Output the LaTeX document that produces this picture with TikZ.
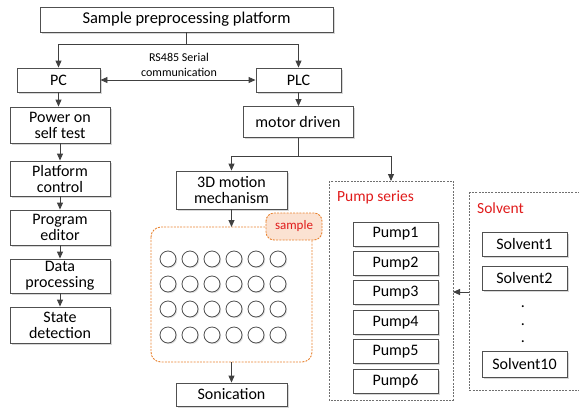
\documentclass[tikz,border=0pt]{standalone}
\usepackage{fontspec}
\setmainfont{Carlito}
\usetikzlibrary{arrows.meta,shadows}
\definecolor{boxline}{HTML}{505050}
\definecolor{arrcol}{HTML}{404040}
\definecolor{orangeline}{HTML}{E8822F}
\definecolor{tabfill}{HTML}{FBE2D2}
\definecolor{redtext}{HTML}{E01B1B}
\definecolor{grayline}{HTML}{707070}
\tikzset{
  box/.style={draw=boxline, line width=0.9pt, fill=white, align=center,
    font=\fontsize{16}{16}\selectfont, inner sep=0pt,
    drop shadow={shadow xshift=1.5pt, shadow yshift=-1.5pt, fill=black!35, opacity=0.45}},
  arr/.style={draw=arrcol, line width=0.9pt, -{Triangle[length=7pt,width=6pt]}},
  arrboth/.style={draw=arrcol, line width=0.9pt, {Triangle[length=7pt,width=6pt]}-{Triangle[length=7pt,width=6pt]}},
  plain/.style={draw=arrcol, line width=0.9pt},
  dashbox/.style={draw=grayline, line width=0.9pt, dash pattern=on 2pt off 1.2pt},
  well/.style={circle, draw=boxline, line width=0.8pt, fill=white, minimum size=16pt, inner sep=0pt,
    drop shadow={shadow xshift=1.2pt, shadow yshift=-1.2pt, fill=black!30, opacity=0.4}},
  grouptitle/.style={text=redtext, font=\fontsize{15.5}{16}\selectfont, anchor=west, inner sep=0pt}
}
\begin{document}
\begin{tikzpicture}[x=1pt,y=-1pt]
\useasboundingbox (0,0) rectangle (579,408);
\clip (0,0) rectangle (579,408);
% top
\node[box, minimum width=293pt, minimum height=25pt, font=\fontsize{16.5}{17}\selectfont] (title) at (186.5,19.5) {Sample preprocessing platform};
\node[box, minimum width=83pt, minimum height=24pt] (pc) at (58.5,80) {PC};
\node[box, minimum width=85pt, minimum height=24pt] (plc) at (298.5,80) {PLC};
\coordinate (j1) at (186.5,44);
\draw[plain] (title.south) -- (j1);
\draw[arr] (j1) -| (pc.north);
\draw[arr] (j1) -| (plc.north);
\draw[arrboth] (pc.east) -- (plc.west);
\node[align=center, font=\fontsize{12}{15}\selectfont, inner sep=0pt] (rs) at (179,64.5) {RS485 Serial\\communication};
% left column
\node[box, minimum width=100pt, minimum height=36pt] (power) at (60,125) {Power on\\self test};
\node[box, minimum width=100pt, minimum height=35pt] (platform) at (60,178.5) {Platform\\control};
\node[box, minimum width=100pt, minimum height=35pt] (program) at (60,227.5) {Program\\editor};
\node[box, minimum width=100pt, minimum height=34pt] (data) at (60,276) {Data\\processing};
\node[box, minimum width=100pt, minimum height=36pt] (state) at (60,325) {State\\detection};
\draw[arr] (pc.south) -- (pc.south |- power.north);
\draw[arr] (power.south) -- (platform.north);
\draw[arr] (platform.south) -- (program.north);
\draw[arr] (program.south) -- (data.north);
\draw[arr] (data.south) -- (state.north);
% PLC branch
\node[box, minimum width=110pt, minimum height=31pt] (motor) at (298,122) {motor driven};
\draw[arr] (plc.south) -- (plc.south |- motor.north);
\node[box, minimum width=111pt, minimum height=38pt] (motion) at (231.5,190) {3D motion\\mechanism};
% sample tray
\draw[draw=orangeline, line width=0.9pt, dash pattern=on 2pt off 1.2pt, rounded corners=10pt] (151,227) rectangle (312,362);
\coordinate (trayN) at (231.5,227);
\coordinate (trayS) at (231.5,362);
\draw[draw=orangeline, fill=tabfill, line width=0.9pt, dash pattern=on 2pt off 1.2pt, rounded corners=8pt] (266,213) rectangle (322,240);
\node[text=redtext, font=\fontsize{13}{13}\selectfont, inner sep=0pt] (tab) at (294,226.5) {sample};
\foreach \r/\y in {1/259,2/284,3/309,4/335}{
  \foreach \c/\x in {1/168,2/190,3/212,4/234,5/256,6/278}{
    \node[well] (w\r\c) at (\x,\y) {};
  }
}
\node[box, minimum width=111pt, minimum height=23pt] (sonic) at (231.5,394.5) {Sonication};
\draw[arr] (motion.south) -- (trayN);
\draw[arr] (trayS) -- (sonic.north);
% pumps
\draw[dashbox] (329,181) rectangle (453,400);
\coordinate (pumpsN) at (391,181);
\coordinate (pumpsE) at (453,292);
\node[grouptitle] (pst) at (337,197) {Pump series};
\foreach \i/\y in {1/234,2/263.4,3/292.8,4/322.2,5/351.6,6/381}{
  \node[box, minimum width=85pt, minimum height=24pt] (pump\i) at (395.5,\y) {Pump\i};
}
\coordinate (j2) at (298,156);
\draw[plain] (motor.south) -- (j2);
\draw[arr] (j2) -| (motion.north);
\draw[arr] (j2) -| (pumpsN);
% solvents
\draw[dashbox] (469,192) rectangle (600,390);
\coordinate (solvW) at (469,292);
\node[grouptitle] (svt) at (477,208) {Solvent};
\node[box, minimum width=85pt, minimum height=24pt] (s1) at (524.5,244) {Solvent1};
\node[box, minimum width=85pt, minimum height=24pt] (s2) at (524.5,278) {Solvent2};
\node[box, minimum width=85pt, minimum height=26pt] (s10) at (524.5,364) {Solvent10};
\foreach \k/\y in {1/307,2/325,3/342}{
  \node[anchor=base, inner sep=0pt, font=\fontsize{16}{16}\selectfont] (dot\k) at (523,\y) {.};
}
\draw[arr] (solvW) -- (pumpsE);
\end{tikzpicture}
\end{document}
